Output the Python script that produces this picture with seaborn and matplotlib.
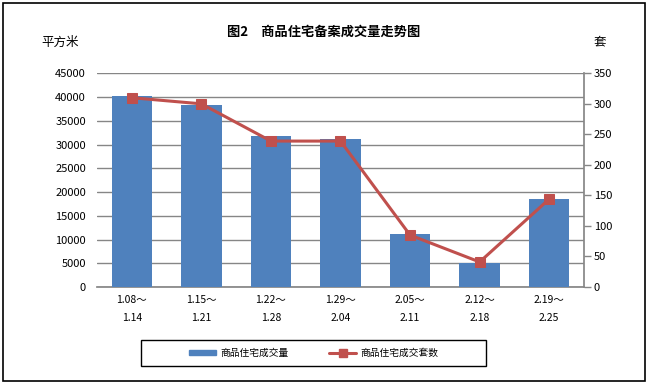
import matplotlib
matplotlib.use("Agg")
import matplotlib.pyplot as plt
import seaborn as sns
import pandas as pd
import numpy as np
from matplotlib.patches import Rectangle, Patch
from matplotlib.lines import Line2D

categories = ["1.08～\n1.14", "1.15～\n1.21", "1.22～\n1.28", "1.29～\n2.04",
              "2.05～\n2.11", "2.12～\n2.18", "2.19～\n2.25"]
area_values = [40200, 38300, 31800, 31150, 11150, 4950, 18500]
unit_values = [310, 300, 239, 239, 85, 41, 144]
left_ticks = [0, 5000, 10000, 15000, 20000, 25000, 30000, 35000, 40000, 45000]
right_ticks = [0, 50, 100, 150, 200, 250, 300, 350]

title_text = "图2　商品住宅备案成交量走势图"
left_unit = "平方米"
right_unit = "套"
bar_label = "商品住宅成交量"
line_label = "商品住宅成交套数"

sns.set_theme(style="white")
plt.rcParams['font.family'] = ['Noto Sans CJK SC', 'DejaVu Sans']
plt.rcParams['text.color'] = 'black'
plt.rcParams['xtick.color'] = 'black'
plt.rcParams['ytick.color'] = 'black'

df = pd.DataFrame({"week": categories, "area": area_values, "units": unit_values})
df["pos"] = np.arange(len(df))

bar_color = "#4F81BD"
line_color = "#C0504D"
grid_color = "#868686"

fig = plt.figure(figsize=(6.48, 3.84), dpi=100)
ax = fig.add_axes([0.1497, 0.2526, 0.7515, 0.5565])

sns.barplot(data=df, x="week", y="area", color=bar_color, width=0.58,
            saturation=1, ax=ax, zorder=3, linewidth=0, edgecolor=bar_color)
ax.set_ylim(0, 45000)
ax.set_yticks(left_ticks)
ax.set_xlim(-0.5, len(categories) - 0.5)
ax.yaxis.grid(True, color=grid_color, linewidth=1)
ax.set_axisbelow(True)
ax.set_xlabel("")
ax.set_ylabel("")
for s in ["left", "top", "right"]:
    ax.spines[s].set_visible(False)
ax.spines["bottom"].set_color(grid_color)
ax.tick_params(axis="y", length=0, labelsize=8, pad=8, labelcolor="black")
ax.tick_params(axis="x", length=0, labelsize=7.5, pad=6, labelcolor="black")
for lbl in ax.get_xticklabels():
    lbl.set_linespacing(1.9)

ax2 = ax.twinx()
sns.lineplot(data=df, x="pos", y="units", ax=ax2, color=line_color, linewidth=2.2,
             marker="s", markersize=7, markeredgecolor=line_color, zorder=4)
ax2.set_ylim(0, 350)
ax2.set_yticks(right_ticks)
ax2.set_xlim(-0.5, len(categories) - 0.5)
ax2.set_ylabel("")
ax2.set_xlabel("")
ax2.grid(False)
for s in ["left", "top", "bottom"]:
    ax2.spines[s].set_visible(False)
ax2.spines["right"].set_visible(True)
ax2.spines["right"].set_color(grid_color)
ax2.tick_params(axis="y", right=True, length=5, width=1, color=grid_color,
                labelsize=8, pad=2, labelcolor="black")

fig.text(0.5, 0.917, title_text, ha="center", va="center", fontsize=9.5,
         fontweight="bold", color="black")
fig.text(0.093, 0.89, left_unit, ha="center", va="center", fontsize=9, color="black")
fig.text(0.925, 0.89, right_unit, ha="center", va="center", fontsize=9, color="black")

handles = [Patch(facecolor=bar_color, edgecolor=bar_color),
           Line2D([0], [0], color=line_color, linewidth=2.2, marker="s", markersize=6)]
leg = fig.legend(handles, [bar_label, line_label], loc="center",
                 bbox_to_anchor=(0.4838, 0.0807), ncol=2, frameon=False,
                 fontsize=7, handlelength=2.8, handleheight=0.45, columnspacing=4.2,
                 handletextpad=0.4)

# legend frame
fig.patches.append(Rectangle((141 / 648, 1 - 366 / 384), 345 / 648, 26 / 384,
                             transform=fig.transFigure, fill=False,
                             edgecolor="black", linewidth=1))
# outer border
fig.patches.append(Rectangle((0.004, 0.008), 0.992, 0.985, transform=fig.transFigure,
                             fill=False, edgecolor="black", linewidth=1.2))

fig.savefig("out.png", dpi=100)
